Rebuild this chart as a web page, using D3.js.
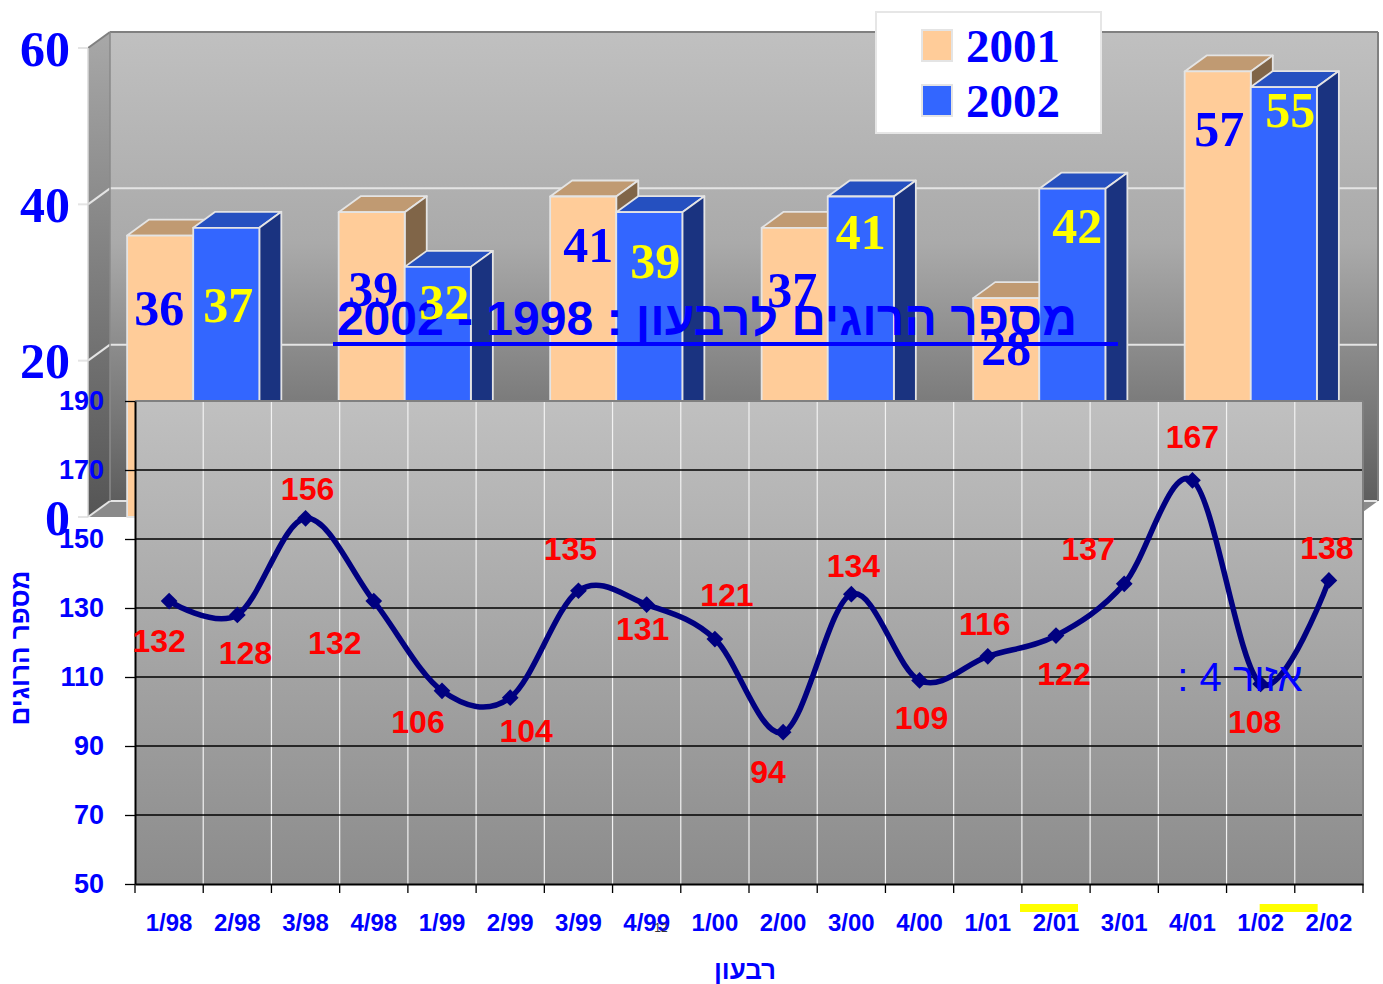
<!DOCTYPE html>
<html>
<head>
<meta charset="utf-8">
<script src="https://cdn.jsdelivr.net/npm/d3@7"></script>
<style>
    body { margin: 0; background: #fff; }
    svg { display: block; }
</style>
</head>
<body>
<svg width="1383" height="984"></svg>
<script>
// Background 3D bar chart: yearly values per group
const groups = ['g1', 'g2', 'g3', 'g4', 'g5', 'g6'];
const years = ['2001', '2002'];
const values2001 = [36, 39, 41, 37, 28, 57];
const values2002 = [37, 32, 39, 41, 42, 55];
const barTicks = [0, 20, 40, 60];

// Foreground line chart: killed per quarter
const quarters = ['1/98', '2/98', '3/98', '4/98', '1/99', '2/99', '3/99', '4/99', '1/00',
    '2/00', '3/00', '4/00', '1/01', '2/01', '3/01', '4/01', '1/02', '2/02'];
const killed = [132, 128, 156, 132, 106, 104, 135, 131, 121, 94, 134, 109, 116, 122, 137, 167, 108, 138];
const lineTicks = [50, 70, 90, 110, 130, 150, 170, 190];

// Label placement (dx, dy from the mark)
const barLabelShift = {
    2001: [[-1, 72], [1.5, 76], [5, 48], [-2.5, 62], [0, 49], [1.5, 57]],
    2002: [[2, 77], [6.5, 35], [6, 48], [0, 35], [5, 37], [6.5, 22]],
};
const pointLabelShift = [[-10, 40], [8, 38], [2, -30], [-39, 42], [-24, 31], [16, 33], [-8, -42],
    [-4, 24], [12, -44], [-15, 40], [2, -28], [2, 37], [-3, -33], [8, 38], [-36, -35], [0, -44],
    [-6, 38], [-2, -33]];

const serif = '"Liberation Serif", "Times New Roman", serif';
const sans = '"Liberation Sans", Arial, sans-serif';
const blue = '#0000FF';

const svg = d3.select('svg');
const defs = svg.append('defs');

function vGradient(id, stops) {
    const g = defs.append('linearGradient').attr('id', id)
        .attr('x1', 0).attr('y1', 0).attr('x2', 0).attr('y2', 1);
    stops.forEach(([o, c]) => g.append('stop').attr('offset', o).attr('stop-color', c));
}
vGradient('wallGrad', [[0, '#c0c0c0'], [0.45, '#aaaaaa'], [1, '#5e5e5e']]);
vGradient('sideGrad', [[0, '#a8a8a8'], [1, '#555555']]);
vGradient('plotGrad', [[0, '#c0c0c0'], [1, '#8c8c8c']]);

// ---------- 3D bar chart ----------
const depth = { x: 22, y: 16 };
const bx0 = 88, bx1 = 1356;
const yBar = d3.scaleLinear().domain([0, 60]).range([517, 48]);
const xGroup = d3.scaleBand().domain(groups).range([bx0, bx1]).paddingInner(0.375).paddingOuter(0.185);
const xYear = d3.scaleBand().domain(years).range([0, xGroup.bandwidth()]);

const bar3d = svg.append('g').attr('class', 'bars3d');

// back wall, side wall, floor
bar3d.append('rect')
    .attr('x', bx0 + depth.x).attr('y', yBar(60) - depth.y)
    .attr('width', bx1 - bx0).attr('height', yBar(0) - yBar(60))
    .attr('fill', 'url(#wallGrad)');
bar3d.append('path')
    .attr('d', `M${bx0},${yBar(60)}L${bx0 + depth.x},${yBar(60) - depth.y}L${bx0 + depth.x},${yBar(0) - depth.y}L${bx0},${yBar(0)}Z`)
    .attr('fill', 'url(#sideGrad)');
bar3d.append('path')
    .attr('d', `M${bx0},${yBar(0)}L${bx0 + depth.x},${yBar(0) - depth.y}L${bx1 + depth.x},${yBar(0) - depth.y}L${bx1},${yBar(0)}Z`)
    .attr('fill', '#8a8a8a');

// gridlines on the walls
barTicks.forEach((t) => {
    const yf = yBar(t), yb = yBar(t) - depth.y;
    const col = t === 60 ? '#808080' : '#e4e4e4';
    bar3d.append('line').attr('x1', bx0 + depth.x).attr('x2', bx1 + depth.x)
        .attr('y1', yb).attr('y2', yb).attr('stroke', col).attr('stroke-width', 2);
    bar3d.append('line').attr('x1', bx0).attr('x2', bx0 + depth.x)
        .attr('y1', yf).attr('y2', yb).attr('stroke', col).attr('stroke-width', 2);
    bar3d.append('line').attr('x1', bx0 - 10).attr('x2', bx0)
        .attr('y1', yf).attr('y2', yf).attr('stroke', '#e4e4e4').attr('stroke-width', 2);
});
bar3d.append('line').attr('x1', bx0 + depth.x).attr('x2', bx0 + depth.x)
    .attr('y1', yBar(60) - depth.y).attr('y2', yBar(0) - depth.y).attr('stroke', '#8a8a8a').attr('stroke-width', 1.5);
bar3d.append('line').attr('x1', bx0).attr('x2', bx0)
    .attr('y1', yBar(60)).attr('y2', yBar(0)).attr('stroke', '#d8d8d8').attr('stroke-width', 1.5);
bar3d.append('line').attr('x1', bx1 + depth.x).attr('x2', bx1 + depth.x)
    .attr('y1', yBar(60) - depth.y).attr('y2', yBar(0) - depth.y).attr('stroke', '#808080').attr('stroke-width', 2);

// y axis labels of the bar chart
bar3d.selectAll('text.ytick').data(barTicks).enter().append('text')
    .attr('class', 'ytick')
    .attr('x', 70).attr('y', (d) => yBar(d)).attr('dy', '0.35em')
    .attr('text-anchor', 'end')
    .style('font-family', serif).style('font-weight', 'bold').style('font-size', '50px')
    .attr('fill', blue)
    .text((d) => d);

const barColors = {
    2001: { front: '#FFCC99', top: '#C09A72', side: '#806548' },
    2002: { front: '#3366FF', top: '#2550C0', side: '#1A3380' },
};
const barData = groups.flatMap((g, i) => years.map((yr) => ({
    group: g, year: yr, i, value: (yr === '2001' ? values2001 : values2002)[i],
})));

bar3d.selectAll('g.bar').data(barData).enter().append('g').attr('class', 'bar')
    .each(function (d) {
        const g = d3.select(this);
        const x = xGroup(d.group) + xYear(d.year);
        const w = xYear.bandwidth();
        const y = yBar(d.value), y0 = yBar(0);
        const c = barColors[d.year];
        const edge = { stroke: '#e4e4e4', 'stroke-width': 1.8, 'stroke-linejoin': 'round' };
        const apply = (sel) => { Object.entries(edge).forEach(([k, v]) => sel.attr(k, v)); return sel; };
        apply(g.append('path')
            .attr('d', `M${x},${y}L${x + depth.x},${y - depth.y}L${x + w + depth.x},${y - depth.y}L${x + w},${y}Z`)
            .attr('fill', c.top));
        apply(g.append('path')
            .attr('d', `M${x + w},${y}L${x + w + depth.x},${y - depth.y}L${x + w + depth.x},${y0 - depth.y}L${x + w},${y0}Z`)
            .attr('fill', c.side));
        apply(g.append('rect').attr('x', x).attr('y', y).attr('width', w).attr('height', y0 - y)
            .attr('fill', c.front));
    });

// legend
const legend = svg.append('g').attr('class', 'legend');
legend.append('rect').attr('x', 876).attr('y', 12).attr('width', 225).attr('height', 121)
    .attr('fill', '#fff').attr('stroke', '#e6e6e6').attr('stroke-width', 2);
years.forEach((yr, k) => {
    legend.append('rect').attr('x', 922).attr('y', 30 + k * 55).attr('width', 30).attr('height', 31)
        .attr('fill', barColors[yr].front).attr('stroke', '#e4e4e4').attr('stroke-width', 2);
    legend.append('text').attr('x', 966).attr('y', 62 + k * 55)
        .style('font-family', serif).style('font-weight', 'bold').style('font-size', '47px')
        .attr('fill', blue).text(yr);
});

// title
svg.append('text')
    .attr('x', 707).attr('y', 335)
    .attr('text-anchor', 'middle')
    .style('direction', 'rtl')
    .style('font-family', sans).style('font-weight', 'bold').style('font-size', '48px')
    .attr('fill', blue)
    .text('מספר הרוגים לרבעון : 1998 - 2002');

// bar value labels
svg.append('g').selectAll('text').data(barData).enter().append('text')
    .attr('x', (d) => xGroup(d.group) + xYear(d.year) + xYear.bandwidth() / 2 + barLabelShift[d.year][d.i][0])
    .attr('y', (d) => yBar(d.value) + barLabelShift[d.year][d.i][1])
    .attr('dy', '0.35em')
    .attr('text-anchor', 'middle')
    .style('font-family', serif).style('font-weight', 'bold').style('font-size', '50px')
    .attr('fill', (d) => (d.year === '2001' ? blue : '#FFFF00'))
    .text((d) => d.value);

svg.append('line').attr('x1', 333).attr('x2', 1118).attr('y1', 344).attr('y2', 344)
    .attr('stroke', blue).attr('stroke-width', 4);

// ---------- line chart ----------
const px0 = 135, px1 = 1363, py0 = 401, py1 = 884;
const xQ = d3.scaleBand().domain(quarters).range([px0, px1]);
const yL = d3.scaleLinear().domain([50, 190]).range([py1, py0]);
const lc = svg.append('g').attr('class', 'linechart');

lc.append('rect').attr('x', px0).attr('y', py0).attr('width', px1 - px0).attr('height', py1 - py0)
    .attr('fill', 'url(#plotGrad)');

// vertical white gridlines on category boundaries
lc.selectAll('line.vgrid').data(quarters.slice(1)).enter().append('line')
    .attr('class', 'vgrid')
    .attr('x1', (d) => xQ(d)).attr('x2', (d) => xQ(d))
    .attr('y1', py0).attr('y2', py1)
    .attr('stroke', '#f2f2f2').attr('stroke-width', 1.2);

// horizontal black gridlines
lc.selectAll('line.hgrid').data(lineTicks.filter((t) => t > 50 && t < 190)).enter().append('line')
    .attr('class', 'hgrid')
    .attr('x1', px0).attr('x2', px1)
    .attr('y1', (d) => yL(d)).attr('y2', (d) => yL(d))
    .attr('stroke', '#000').attr('stroke-width', 1.3);

lc.append('line').attr('x1', px0).attr('x2', px1).attr('y1', py0).attr('y2', py0)
    .attr('stroke', '#808080').attr('stroke-width', 2);
lc.append('line').attr('x1', px1).attr('x2', px1).attr('y1', py0).attr('y2', py1)
    .attr('stroke', '#808080').attr('stroke-width', 2);

// y axis
const yAxis = lc.append('g').attr('transform', `translate(${px0},0)`)
    .call(d3.axisLeft(yL).tickValues(lineTicks).tickSize(10).tickSizeOuter(0).tickPadding(21));
yAxis.select('.domain').attr('stroke', '#000').attr('stroke-width', 2);
yAxis.selectAll('.tick line').attr('stroke', '#000').attr('stroke-width', 1.3);
yAxis.selectAll('.tick text')
    .style('font-family', sans).style('font-weight', 'bold').style('font-size', '27px')
    .attr('fill', blue);

// x axis
const xAxis = lc.append('g').attr('transform', `translate(0,${py1})`)
    .call(d3.axisBottom(xQ).tickSize(0).tickSizeOuter(0).tickPadding(30));
xAxis.select('.domain').attr('stroke', '#000').attr('stroke-width', 2);
xAxis.selectAll('.tick text')
    .style('font-family', sans).style('font-weight', 'bold').style('font-size', '24px')
    .attr('fill', blue);
lc.selectAll('line.xtick').data(quarters.map((q) => xQ(q)).concat([px1])).enter().append('line')
    .attr('class', 'xtick')
    .attr('x1', (d) => d).attr('x2', (d) => d)
    .attr('y1', py1).attr('y2', py1 + 9)
    .attr('stroke', '#000').attr('stroke-width', 1.3);

// highlights under two quarters
[['2/01', -36, 22], ['1/02', -1, 57]].forEach(([q, a, b]) => {
    const cx = xQ(q) + xQ.bandwidth() / 2;
    lc.append('rect').attr('x', cx + a).attr('y', 904).attr('width', b - a).attr('height', 8)
        .attr('fill', '#FFFF00');
});

// smoothed line
const cx = (i) => xQ(quarters[i]) + xQ.bandwidth() / 2;
const line = d3.line()
    .x((d, i) => cx(i))
    .y((d) => yL(d))
    .curve(d3.curveCardinal.tension(0));
lc.append('path').datum(killed)
    .attr('d', line)
    .attr('fill', 'none').attr('stroke', '#000080').attr('stroke-width', 5.5)
    .attr('stroke-linejoin', 'round');

lc.selectAll('path.marker').data(killed).enter().append('path')
    .attr('class', 'marker')
    .attr('d', d3.symbol(d3.symbolSquare, 140))
    .attr('transform', (d, i) => `translate(${cx(i)},${yL(d)}) rotate(45)`)
    .attr('fill', '#000080');

lc.selectAll('text.vlabel').data(killed).enter().append('text')
    .attr('class', 'vlabel')
    .attr('x', (d, i) => cx(i) + pointLabelShift[i][0])
    .attr('y', (d, i) => yL(d) + pointLabelShift[i][1])
    .attr('dy', '0.35em')
    .attr('text-anchor', 'middle')
    .style('font-family', sans).style('font-weight', 'bold').style('font-size', '32px')
    .attr('fill', '#FF0000')
    .text((d) => d);

// axis titles
lc.append('text')
    .attr('transform', 'translate(20,648) rotate(-90)')
    .attr('dy', '0.35em')
    .attr('text-anchor', 'middle')
    .style('font-family', sans).style('font-weight', 'bold').style('font-size', '26px')
    .attr('fill', blue)
    .text('מספר הרוגים');
lc.append('text')
    .attr('x', 745).attr('y', 979)
    .attr('text-anchor', 'middle')
    .style('font-family', sans).style('font-weight', 'bold').style('font-size', '26px')
    .attr('fill', blue)
    .text('רבעון');

// region note
lc.append('text')
    .attr('x', 1240).attr('y', 691)
    .attr('text-anchor', 'middle')
    .style('direction', 'rtl')
    .style('font-family', sans).style('font-size', '40px')
    .attr('fill', blue)
    .text('אזור 4 :');

// slide number
svg.append('text').attr('x', 661).attr('y', 932).attr('text-anchor', 'middle')
    .style('font-family', sans).style('font-size', '12px').attr('fill', '#333')
    .text('12');
</script>
</body>
</html>
